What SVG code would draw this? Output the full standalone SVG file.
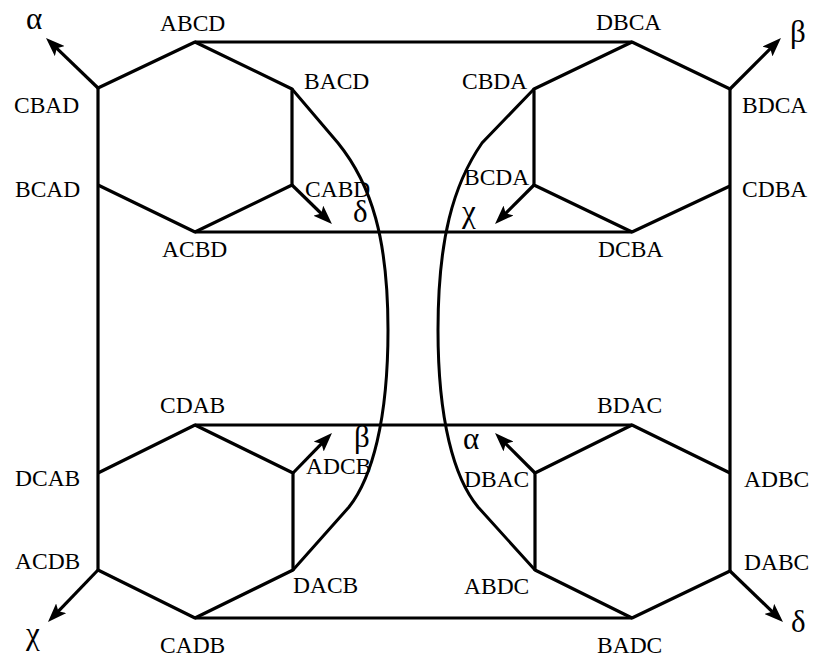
<svg xmlns="http://www.w3.org/2000/svg" width="814" height="660" viewBox="0 0 814 660">
  <style>
    .edge { fill: none; stroke: #000; stroke-width: 3.2; stroke-linejoin: round; }
    .curve { fill: none; stroke: #000; stroke-width: 3; }
    .arrow { fill: none; stroke: #000; stroke-width: 3.2; marker-end: url(#head); }
    .lbl { font-family: "Liberation Serif", "Times New Roman", serif; font-size: 23.5px; fill: #000; }
    .greek { font-family: "Liberation Serif", "Times New Roman", serif; font-size: 31px; fill: #000; }
  </style>
  <defs>
    <marker id="head" markerUnits="userSpaceOnUse" markerWidth="21" markerHeight="14" refX="9" refY="7" orient="auto">
      <path d="M0,0 L19,7 L0,14 L4,7 Z" fill="#000"/>
    </marker>
  </defs>
  <rect width="814" height="660" fill="#fff"/>

  <!-- connectors: hexagon edges, frame lines, curves and arrows -->
  <g id="connectors">
    <!-- top-left hexagon -->
    <polyline class="edge" points="98,88 195,42 292,89 292,185 195,232 98,185"/>
    <!-- top-right hexagon -->
    <polyline class="edge" points="730,89 632,42 534,89 534,185 632,232 730,186"/>
    <!-- bottom-left hexagon -->
    <polyline class="edge" points="98,473 195,425 293,473 293,570 195,618 98,570"/>
    <!-- bottom-right hexagon -->
    <polyline class="edge" points="730,473 632,425 535,473 535,570 632,618 730,571"/>
    <!-- horizontal links -->
    <line class="edge" x1="195" y1="42" x2="632" y2="42"/>
    <line class="edge" x1="195" y1="232" x2="632" y2="232"/>
    <line class="edge" x1="195" y1="425" x2="632" y2="425"/>
    <line class="edge" x1="195" y1="618" x2="632" y2="618"/>
    <!-- outer verticals -->
    <line class="edge" x1="98" y1="88" x2="98" y2="570"/>
    <line class="edge" x1="730" y1="89" x2="730" y2="571"/>
    <!-- curved links -->
    <path class="curve" d="M292,89 L338,143 C372,185 388,240 388,330 C388,420 372,478 349,507 L293,570"/>
    <path class="curve" d="M534,89 L482,143 C453,185 438,240 438,330 C438,420 454,478 478,507 L535,570"/>
    <!-- outer arrows -->
    <line class="arrow" x1="98" y1="88" x2="53.2" y2="44.9"/>
    <line class="arrow" x1="730" y1="89" x2="773.9" y2="45.1"/>
    <line class="arrow" x1="98" y1="570" x2="54.9" y2="614.8"/>
    <line class="arrow" x1="730" y1="571" x2="775.8" y2="615.1"/>
    <!-- inner arrows -->
    <line class="arrow" x1="292" y1="185" x2="324.8" y2="217"/>
    <line class="arrow" x1="534" y1="185" x2="502.1" y2="216.9"/>
    <line class="arrow" x1="293" y1="473" x2="325" y2="440.2"/>
    <line class="arrow" x1="535" y1="473" x2="502.1" y2="440.1"/>
  </g>

  <!-- arrow labels -->
  <g id="arrow-labels">
    <text class="greek" x="26" y="29">α</text>
    <text class="greek" x="790" y="42">β</text>
    <text class="greek" x="26" y="644">χ</text>
    <text class="greek" x="791" y="632">δ</text>
    <text class="greek" x="353" y="222">δ</text>
    <text class="greek" x="462" y="222">χ</text>
    <text class="greek" x="354" y="447">β</text>
    <text class="greek" x="463" y="449">α</text>
  </g>

  <!-- nodes: permutations at hexagon vertices -->
  <g id="n-ABCD"><text class="lbl" x="160" y="31">ABCD</text></g>
  <g id="n-CBAD"><text class="lbl" x="14" y="113">CBAD</text></g>
  <g id="n-BCAD"><text class="lbl" x="15" y="197">BCAD</text></g>
  <g id="n-BACD"><text class="lbl" x="304" y="89">BACD</text></g>
  <g id="n-CABD"><text class="lbl" x="305" y="197">CABD</text></g>
  <g id="n-ACBD"><text class="lbl" x="162" y="257">ACBD</text></g>

  <g id="n-DBCA"><text class="lbl" x="596" y="30">DBCA</text></g>
  <g id="n-CBDA"><text class="lbl" x="462" y="89">CBDA</text></g>
  <g id="n-BDCA"><text class="lbl" x="742" y="113">BDCA</text></g>
  <g id="n-BCDA"><text class="lbl" x="464" y="185">BCDA</text></g>
  <g id="n-CDBA"><text class="lbl" x="742" y="197">CDBA</text></g>
  <g id="n-DCBA"><text class="lbl" x="598" y="257">DCBA</text></g>

  <g id="n-CDAB"><text class="lbl" x="160" y="413">CDAB</text></g>
  <g id="n-DCAB"><text class="lbl" x="15" y="486">DCAB</text></g>
  <g id="n-ADCB"><text class="lbl" x="306" y="474">ADCB</text></g>
  <g id="n-ACDB"><text class="lbl" x="15" y="569">ACDB</text></g>
  <g id="n-DACB"><text class="lbl" x="293" y="593">DACB</text></g>
  <g id="n-CADB"><text class="lbl" x="160" y="653">CADB</text></g>

  <g id="n-BDAC"><text class="lbl" x="597" y="413">BDAC</text></g>
  <g id="n-DBAC"><text class="lbl" x="464" y="487">DBAC</text></g>
  <g id="n-ADBC"><text class="lbl" x="744" y="487">ADBC</text></g>
  <g id="n-ABDC"><text class="lbl" x="464" y="594">ABDC</text></g>
  <g id="n-DABC"><text class="lbl" x="744" y="570">DABC</text></g>
  <g id="n-BADC"><text class="lbl" x="597" y="653">BADC</text></g>
</svg>
